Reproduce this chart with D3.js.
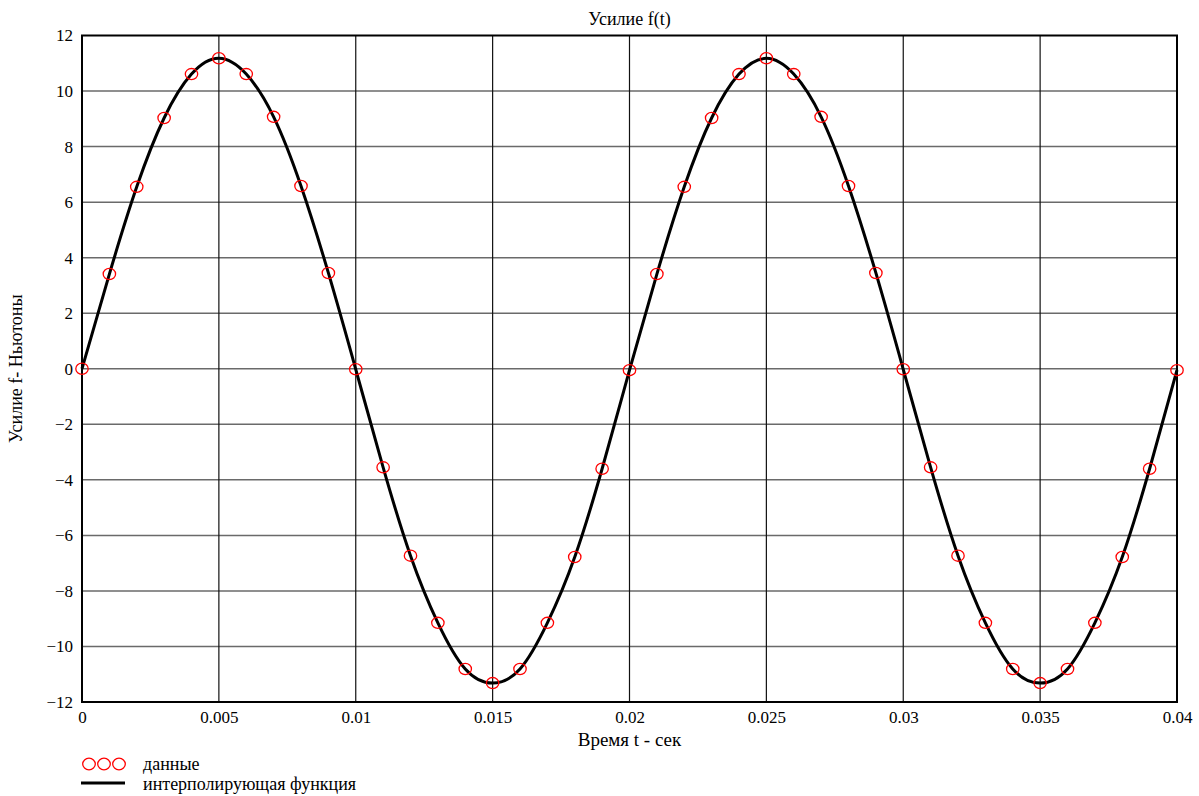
<!DOCTYPE html>
<html>
<head>
<meta charset="utf-8">
<script src="https://cdn.jsdelivr.net/npm/d3@7"></script>
<style>
  body { margin: 0; background: #fff; }
  svg text { font-family: "Liberation Serif", "Times New Roman", serif; fill: #000; }
</style>
</head>
<body>
<div id="vis"></div>
<script>
// chart data
const T_VALUES = [0, 0.001, 0.002, 0.003, 0.004, 0.005, 0.006, 0.007, 0.008, 0.009,
                  0.010, 0.011, 0.012, 0.013, 0.014, 0.015, 0.016, 0.017, 0.018, 0.019,
                  0.020, 0.021, 0.022, 0.023, 0.024, 0.025, 0.026, 0.027, 0.028, 0.029,
                  0.030, 0.031, 0.032, 0.033, 0.034, 0.035, 0.036, 0.037, 0.038, 0.039, 0.040];
const F_VALUES = [0, 3.41, 6.55, 9.03, 10.61, 11.18, 10.61, 9.07, 6.58, 3.45,
                  -0.02, -3.55, -6.73, -9.15, -10.81, -11.32, -10.81, -9.15, -6.78, -3.6,
                  -0.05, 3.41, 6.55, 9.03, 10.61, 11.18, 10.61, 9.07, 6.58, 3.45,
                  -0.02, -3.55, -6.73, -9.15, -10.81, -11.32, -10.81, -9.15, -6.78, -3.6, -0.05];
const X_TICKS = [0, 0.005, 0.01, 0.015, 0.02, 0.025, 0.03, 0.035, 0.04];
const X_TICK_LABELS = ["0", "0.005", "0.01", "0.015", "0.02", "0.025", "0.03", "0.035", "0.04"];
const Y_TICKS = [-12, -10, -8, -6, -4, -2, 0, 2, 4, 6, 8, 10, 12];
const LEGEND_LABELS = ["данные", "интерполирующая функция"];

const FRAME_WIDTH = 1199;
const FRAME_HEIGHT = 796;
const MARGINS = {left: 82, right: 22, top: 35.5, bottom: 94};
const VIS_WIDTH = FRAME_WIDTH - MARGINS.left - MARGINS.right;
const VIS_HEIGHT = FRAME_HEIGHT - MARGINS.top - MARGINS.bottom;

const data = T_VALUES.map((t, i) => ({t: t, f: F_VALUES[i]}));

const FRAME = d3.select("#vis")
  .append("svg")
    .attr("width", FRAME_WIDTH)
    .attr("height", FRAME_HEIGHT);

const X_SCALE = d3.scaleLinear().domain([0, 0.04]).range([0, VIS_WIDTH]);
const Y_SCALE = d3.scaleLinear().domain([-12, 12]).range([VIS_HEIGHT, 0]);

const G = FRAME.append("g")
  .attr("transform", "translate(" + MARGINS.left + "," + MARGINS.top + ")");

// horizontal grid (grey)
G.selectAll(".hgrid")
  .data(Y_TICKS.filter(d => d > -12 && d < 12))
  .enter().append("line")
    .attr("x1", 0).attr("x2", VIS_WIDTH)
    .attr("y1", d => Y_SCALE(d)).attr("y2", d => Y_SCALE(d))
    .attr("stroke", "#6a6a6a").attr("stroke-width", 1.5);

// vertical grid (black)
G.selectAll(".vgrid")
  .data(X_TICKS.filter(d => d > 0 && d < 0.04))
  .enter().append("line")
    .attr("x1", d => X_SCALE(d)).attr("x2", d => X_SCALE(d))
    .attr("y1", 0).attr("y2", VIS_HEIGHT)
    .attr("stroke", "#111").attr("stroke-width", 1.2);

// frame
G.append("rect")
  .attr("x", 0).attr("y", 0)
  .attr("width", VIS_WIDTH).attr("height", VIS_HEIGHT)
  .attr("fill", "none").attr("stroke", "#000").attr("stroke-width", 2);

// axes (labels only)
const xAxis = G.append("g")
  .attr("transform", "translate(0," + VIS_HEIGHT + ")")
  .call(d3.axisBottom(X_SCALE).tickValues(X_TICKS)
        .tickFormat((d, i) => X_TICK_LABELS[i]).tickSize(0).tickPadding(9));
const yAxis = G.append("g")
  .call(d3.axisLeft(Y_SCALE).tickValues(Y_TICKS)
        .tickFormat(d => d < 0 ? "\u2212" + Math.abs(d) : String(d)).tickSize(0).tickPadding(9));
[xAxis, yAxis].forEach(a => {
  a.select(".domain").remove();
  a.selectAll("text").attr("font-size", "17px")
    .attr("font-family", "Liberation Serif, serif").attr("fill", "#000");
});

// interpolating curve
const line = d3.line()
  .x(d => X_SCALE(d.t))
  .y(d => Y_SCALE(d.f))
  .curve(d3.curveNatural);

G.append("path")
  .datum(data)
  .attr("d", line)
  .attr("fill", "none")
  .attr("stroke", "#000")
  .attr("stroke-width", 3)
  .attr("stroke-linejoin", "round");

// data markers
G.selectAll(".point")
  .data(data)
  .enter().append("ellipse")
    .attr("cx", d => X_SCALE(d.t))
    .attr("cy", d => Y_SCALE(d.f))
    .attr("rx", 6.2).attr("ry", 5.6)
    .attr("fill", "none")
    .attr("stroke", "#ff0000")
    .attr("stroke-width", 1.3);

// titles
FRAME.append("text")
  .attr("x", MARGINS.left + VIS_WIDTH / 2).attr("y", 25)
  .attr("text-anchor", "middle").attr("font-size", "18px")
  .text("Усилие f(t)");

FRAME.append("text")
  .attr("x", MARGINS.left + VIS_WIDTH / 2).attr("y", 746)
  .attr("text-anchor", "middle").attr("font-size", "19px")
  .text("Время t - сек");

FRAME.append("text")
  .attr("transform", "translate(22," + (MARGINS.top + VIS_HEIGHT / 2) + ") rotate(-90)")
  .attr("text-anchor", "middle").attr("font-size", "18px")
  .text("Усилие f- Ньютоны");

// legend
const LEG = FRAME.append("g");
LEG.selectAll(".legmark")
  .data([0, 1, 2])
  .enter().append("ellipse")
    .attr("cx", d => 89 + d * 15)
    .attr("cy", 764)
    .attr("rx", 6.3).attr("ry", 5.8)
    .attr("fill", "none").attr("stroke", "#ff0000").attr("stroke-width", 1.3);
LEG.append("line")
  .attr("x1", 81).attr("x2", 125)
  .attr("y1", 783).attr("y2", 783)
  .attr("stroke", "#000").attr("stroke-width", 3);
LEG.selectAll(".legtext")
  .data(LEGEND_LABELS)
  .enter().append("text")
    .attr("x", 143)
    .attr("y", (d, i) => 770 + i * 20)
    .attr("font-size", "18px")
    .text(d => d);
</script>
</body>
</html>
